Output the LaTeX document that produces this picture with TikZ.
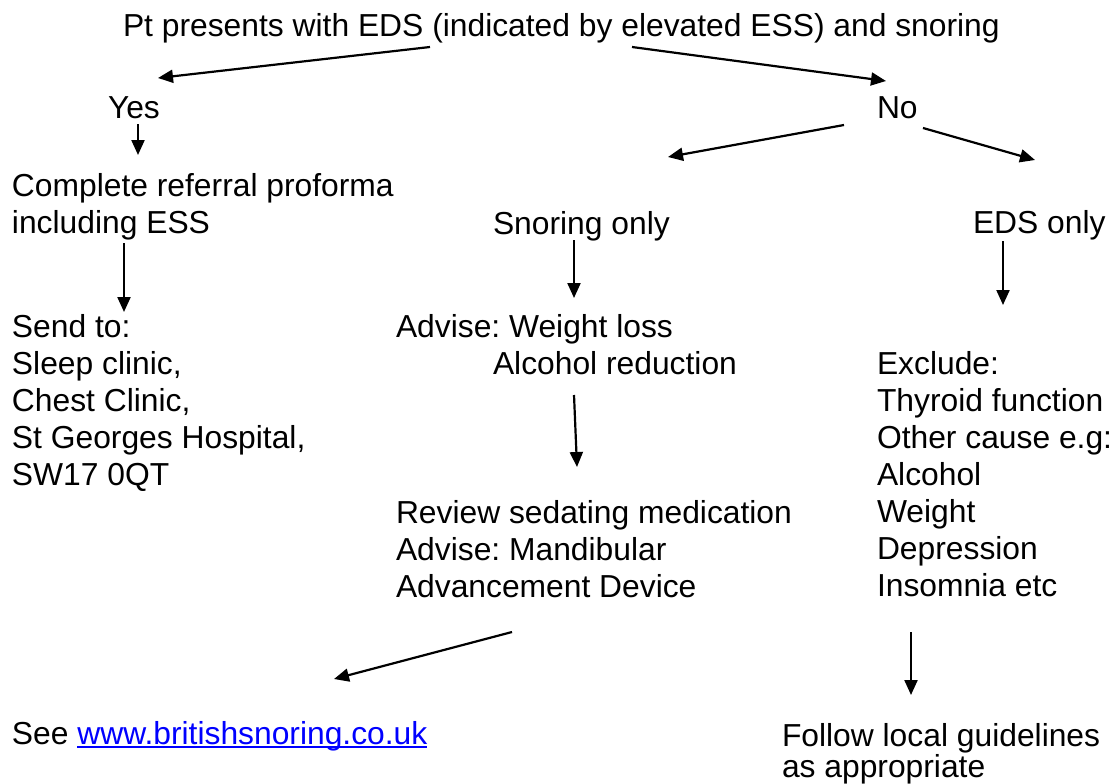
\documentclass[tikz,border=0pt]{standalone}
\usepackage{fontspec}
\setmainfont{Liberation Sans}
\usetikzlibrary{arrows.meta}
\definecolor{linkblue}{RGB}{0,0,255}
\newcommand\linkul[1]{\setbox0\hbox{#1}\rlap{\rule[-4pt]{\wd0}{2pt}}\box0}
\frenchspacing
\begin{document}
\begin{tikzpicture}[x=1pt,y=-1pt,
  txt/.style={anchor=base west, inner sep=0pt, outer sep=0pt, align=left, font=\fontsize{31.8}{37}\selectfont\frenchspacing},
  arr/.style={-{Triangle[length=15pt,width=13pt]}, line width=2.2pt}]
\useasboundingbox (0,0) rectangle (1116,784);
% multi-line nodes are placed by the baseline of their last line
\node[txt] (title) at (123,37) {Pt presents with EDS (indicated by elevated ESS) and snoring};
\node[txt] (yes) at (108,118) {Yes};
\node[txt] (no) at (877,118) {No};
\node[txt] (complete) at (12,233) {Complete referral proforma\\including ESS};
\node[txt] (snoring) at (493,234) {Snoring only};
\node[txt] (edsonly) at (973,233) {EDS only};
\node[txt] (send) at (12,485) {Send to:\\Sleep clinic,\\Chest Clinic,\\St Georges Hospital,\\SW17 0QT};
\node[txt] (advise) at (396,374) {Advise: Weight loss\\\hspace*{97pt}Alcohol reduction};
\node[txt] (exclude) at (877,596) {Exclude:\\Thyroid function\\Other cause e.g:\\Alcohol\\Weight\\Depression\\Insomnia etc};
\node[txt] (review) at (396,597) {Review sedating medication\\Advise: Mandibular\\Advancement Device};
\node[txt] (see) at (12,744) {See \textcolor{linkblue}{\linkul{www.britishsnoring.co.uk}}};
\node[txt, font=\fontsize{31.8}{31}\selectfont] (follow) at (782,777) {Follow local guidelines\\as appropriate};

\coordinate (t1) at (430,47); \coordinate (yesT) at (158,78);
\coordinate (t2) at (632,47); \coordinate (noT) at (886,81);
\coordinate (yesB) at (138,124); \coordinate (compT) at (138,155);
\coordinate (noL) at (844,125); \coordinate (snorT) at (668,157);
\coordinate (noR) at (923,128); \coordinate (edsT) at (1035,160);
\coordinate (compB) at (124,243); \coordinate (sendT) at (124,312);
\coordinate (snorB) at (574,240); \coordinate (adviseT) at (574,298);
\coordinate (adviseB) at (574,395); \coordinate (reviewT) at (577,467);
\coordinate (edsB) at (1003,241); \coordinate (exclT) at (1003,305);
\coordinate (reviewB) at (512,632); \coordinate (seeT) at (334,679);
\coordinate (exclB) at (911,632); \coordinate (followT) at (911,695);

\draw[arr] (t1) -- (yesT);
\draw[arr] (t2) -- (noT);
\draw[arr] (yesB) -- (compT);
\draw[arr] (noL) -- (snorT);
\draw[arr] (noR) -- (edsT);
\draw[arr] (compB) -- (sendT);
\draw[arr] (snorB) -- (adviseT);
\draw[arr] (adviseB) -- (reviewT);
\draw[arr] (edsB) -- (exclT);
\draw[arr] (reviewB) -- (seeT);
\draw[arr] (exclB) -- (followT);
\end{tikzpicture}
\end{document}
